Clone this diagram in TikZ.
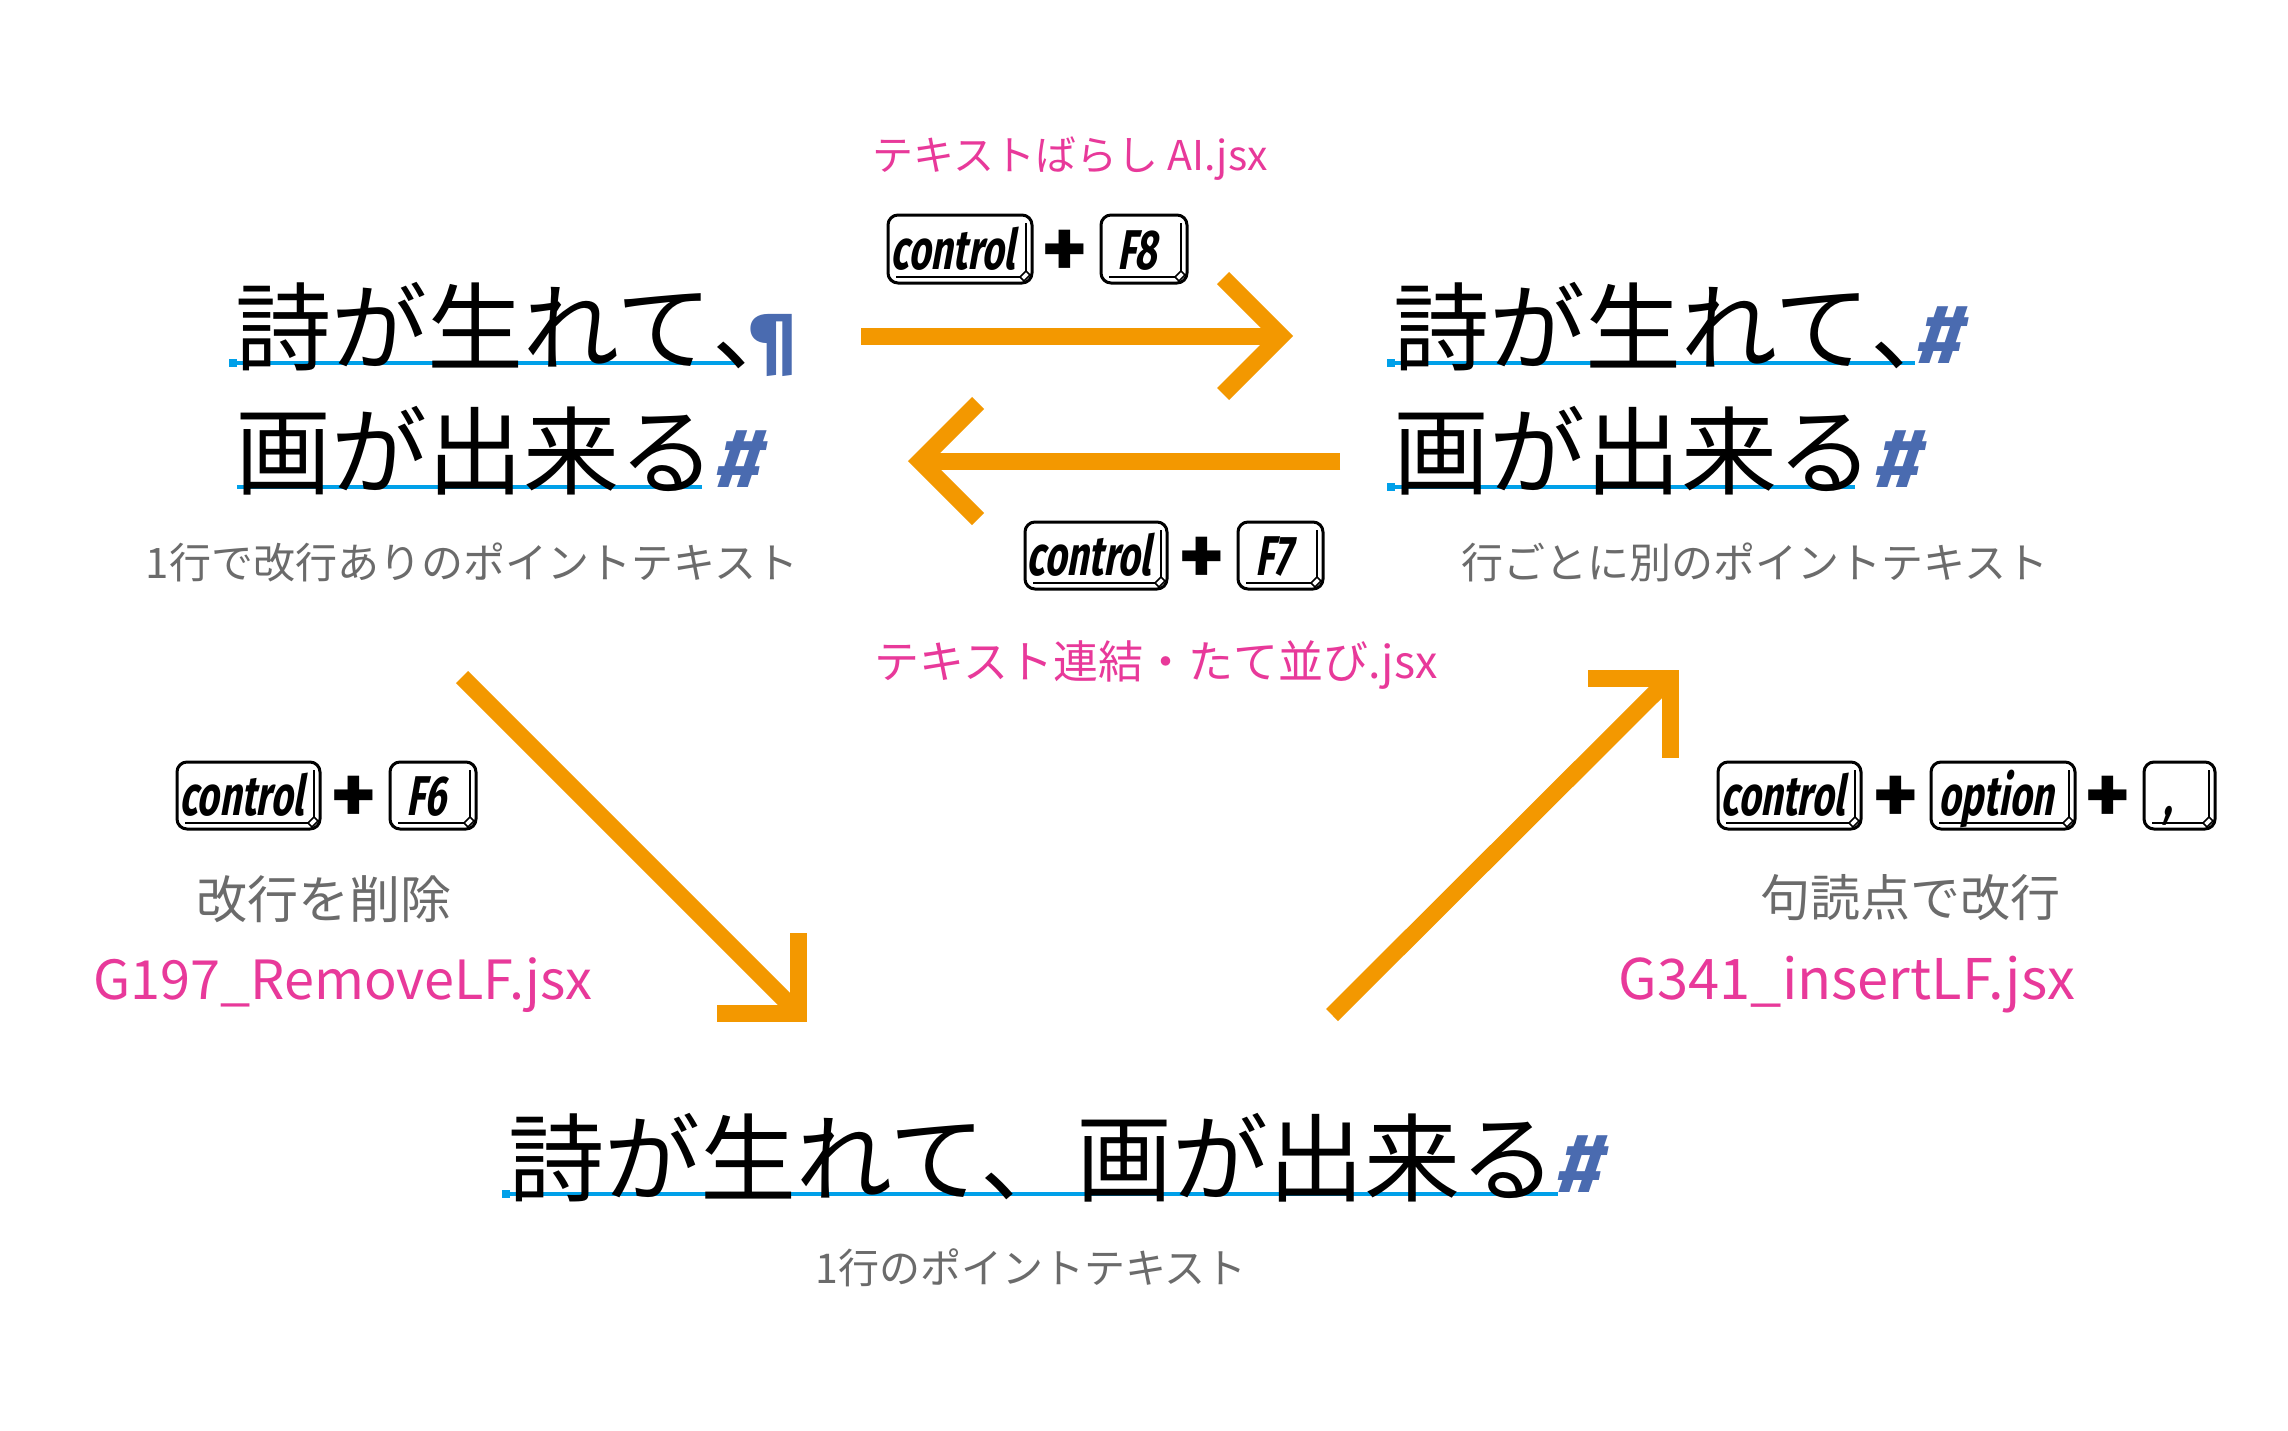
\documentclass[tikz,border=0pt]{standalone}
\usepackage{fontspec}
\usetikzlibrary{calc}
\newfontfamily\jp{Noto Sans CJK JP}
\newfontfamily\keyfont[FakeStretch=0.68,FakeSlant=0.18]{Fira Sans}
\newfontfamily\markfont{Fira Sans}
\newfontfamily\hashfont[FakeSlant=0.2]{Fira Sans}
\definecolor{arrorange}{HTML}{F39800}
\definecolor{scriptpink}{HTML}{E8399A}
\definecolor{capgray}{HTML}{6B6B6B}
\definecolor{markblue}{HTML}{4A6BB0}
\definecolor{ulblue}{HTML}{00A0E9}
\newcommand{\pilmark}{{\color{markblue}\markfont\bfseries\fontsize{68}{68}\selectfont ¶}}
\newcommand{\hashmark}{{\color{markblue}\hashfont\bfseries\fontsize{84}{84}\selectfont\#}}
\newcommand{\halfcomma}{{\addfontfeature{RawFeature=+halt}、}}
\tikzset{
  every node/.style={inner sep=0pt, outer sep=0pt},
  mainjp/.style={font=\jp\fontsize{96}{100}\selectfont, text=black, anchor=base west},
  capg/.style={text=capgray},
  pinkt/.style={text=scriptpink},
  hsh/.style={text=markblue, anchor=base west, font=\hashfont\bfseries\fontsize{84}{84}\selectfont},
  keybox/.style={draw=black, line width=3pt, rounded corners=10pt, font=\keyfont\bfseries\fontsize{56}{56}\selectfont, text height=40pt, text depth=0pt},
  keytext/.style={font=\keyfont\bfseries\fontsize{56}{56}\selectfont},
  keyline/.style={draw=black, line width=1.6pt},
  plus/.style={font=\markfont\bfseries\fontsize{88}{88}\selectfont},
  uline/.style={draw=ulblue, line width=3.2pt},
  ulsq/.style={fill=ulblue},
  arrline/.style={draw=arrorange, line width=17pt},
  arrhead/.style={draw=arrorange, line width=17pt, line join=miter, miter limit=10},
}
\newcommand{\keycap}[6]{%
  \node[keybox, minimum width={(#4)-(#2)}, minimum height={(#5)-(#3)}] (#1) at ({((#2)+(#4))/2},{((#3)+(#5))/2}) {#6\hspace*{14pt}};
  \draw[keyline] ($(#1.north east)+(-6,8)$) -- ($(#1.south east)+(-6,-12)$);
  \draw[keyline] ($(#1.south west)+(8,-6)$) -- ($(#1.south east)+(-12,-6)$);
  \draw[keyline, line join=round] ($(#1.south east)+(-12,-6)$) -- ($(#1.south east)+(-6,-12)$) -- ($(#1.south east)+(-2,-8)$) -- ($(#1.south east)+(-8,-2)$) -- cycle;
}
\begin{document}
\begin{tikzpicture}[x=1pt,y=-1pt]
\useasboundingbox (0,0) rectangle (2288,1430);
\fill[white] (0,0) rectangle (2288,1430);

% ---------- top-left block ----------
\fill[ulsq] (229,359) rectangle (237,367);
\draw[uline] (237,363) -- (741,363);
\draw[uline] (237,487) -- (702,487);
\node[mainjp] (tl1) at (235,363) {詩が生れて\halfcomma\kern-14pt\raisebox{2pt}{\pilmark}};
\node[mainjp] (tl2) at (235,487) {画が出来る};
\node[hsh] (tlh) at (713,487) {\#};
\node[capg, font=\jp\fontsize{42}{46}\selectfont] (cap1) at (472,562) {1行で改行ありのポイントテキスト};

% ---------- top-right block ----------
\fill[ulsq] (1387,359) rectangle (1395,367);
\fill[ulsq] (1387,483) rectangle (1395,491);
\draw[uline] (1395,363) -- (1915,363);
\draw[uline] (1395,487) -- (1855,487);
\node[mainjp] (tr1) at (1393,363) {詩が生れて\halfcomma\kern-4pt\hashmark};
\node[mainjp] (tr2) at (1393,487) {画が出来る};
\node[hsh] (trh2) at (1872,487) {\#};
\node[capg, font=\jp\fontsize{42}{46}\selectfont] (cap2) at (1755,562) {行ごとに別のポイントテキスト};

% ---------- bottom block ----------
\fill[ulsq] (502,1190) rectangle (510,1198);
\draw[uline] (510,1194) -- (1558,1194);
\node[mainjp] (b1) at (508,1194) {詩が生れて、画が出来る};
\node[hsh] (bh) at (1554,1192) {\#};
\node[capg, font=\jp\fontsize{41}{44}\selectfont] (cap3) at (1031,1268) {1行のポイントテキスト};

% ---------- arrows ----------
\coordinate (a1s) at (861,336); \coordinate (a1t) at (1281,336);
\draw[arrline] (a1s) -- (a1t);
\draw[arrhead] ($(a1t)+(-58,-58)$) -- (a1t) -- ($(a1t)+(-58,58)$);

\coordinate (a2s) at (1340,461); \coordinate (a2t) at (920,461);
\draw[arrline] (a2s) -- (a2t);
\draw[arrhead] ($(a2t)+(58,-58)$) -- (a2t) -- ($(a2t)+(58,58)$);

\coordinate (a3s) at (462,677); \coordinate (a3t) at (798,1013);
\draw[arrline] (a3s) -- (a3t);
\draw[arrhead] ($(a3t)+(-81,0)$) -- (a3t) -- ($(a3t)+(0,-80)$);

\coordinate (a4s) at (1332,1015); \coordinate (a4t) at (1670,678);
\draw[arrline] (a4s) -- (a4t);
\draw[arrhead] ($(a4t)+(-82,0)$) -- (a4t) -- ($(a4t)+(0,80)$);

% ---------- labels: top ----------
\node[pinkt, font=\jp\fontsize{41}{44}\selectfont] (s1) at (1070,159) {テキストばらし AI.jsx};
\keycap{k1a}{888}{215}{1032}{283}{control}
\node[plus] (p1) at (1065,254) {+};
\keycap{k1b}{1101}{215}{1187}{283}{F8}

% ---------- labels: middle ----------
\keycap{k2a}{1025}{522}{1167}{589}{control}
\node[plus] (p2) at (1202,561) {+};
\keycap{k2b}{1238}{522}{1323}{589}{F7}
\node[pinkt, font=\jp\fontsize{45}{48}\selectfont] (s2) at (1156,665) {テキスト連結・たて並び.jsx};

% ---------- labels: left ----------
\keycap{k3a}{177}{762}{320}{829}{control}
\node[plus] (p3) at (354,800) {+};
\keycap{k3b}{390}{762}{476}{829}{F6}
\node[capg, font=\jp\fontsize{51}{54}\selectfont] (cap4) at (324,899) {改行を削除};
\node[pinkt, font=\jp\fontsize{54}{58}\selectfont] (s3) at (343,985) {G197\_RemoveLF.jsx};

% ---------- labels: right ----------
\keycap{k4a}{1718}{762}{1861}{829}{control}
\node[plus] (p4) at (1896,800) {+};
\keycap{k4b}{1931}{762}{2075}{829}{option}
\node[plus] (p5) at (2108,800) {+};
\keycap{k4c}{2144}{762}{2215}{829}{}
\node[keytext, anchor=base] (k4ct) at (2168,815) {,};
\node[capg, font=\jp\fontsize{50}{54}\selectfont] (cap5) at (1910,898) {句読点で改行};
\node[pinkt, font=\jp\fontsize{56}{58}\selectfont] (s4) at (1847,985) {G341\_insertLF.jsx};
\end{tikzpicture}
\end{document}
